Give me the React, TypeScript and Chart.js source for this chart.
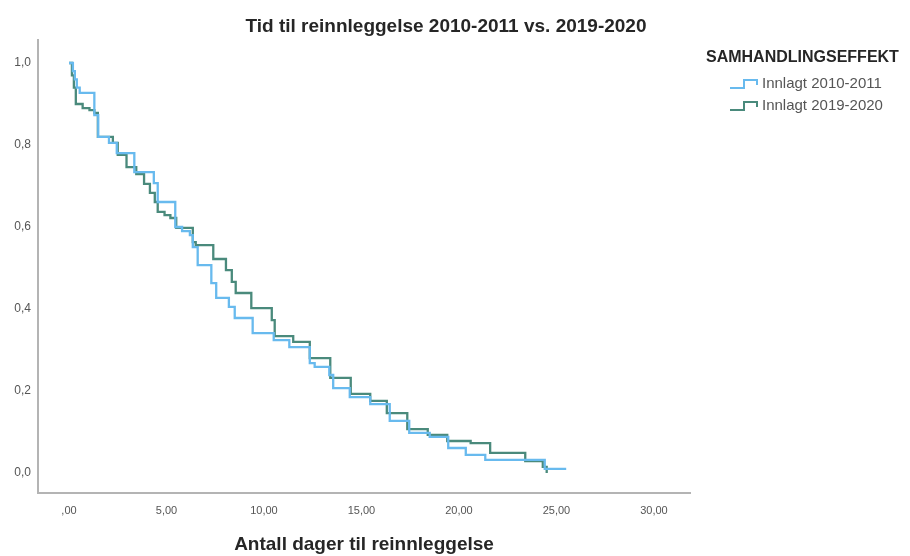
import React, { useEffect, useRef } from "react";
import { Chart, registerables } from "chart.js";

Chart.register(...registerables);

const TITLE = "Tid til reinnleggelse 2010-2011 vs. 2019-2020";
const X_TITLE = "Antall dager til reinnleggelse";
const LEGEND_TITLE = "SAMHANDLINGSEFFEKT";
const SERIES_NAMES = ["Innlagt 2010-2011", "Innlagt 2019-2020"];
const SERIES_COLORS = ["rgb(104,186,238)", "rgb(74,138,124)"];

const X_TICK_VALUES = [0, 5, 10, 15, 20, 25, 30];
const X_TICK_LABELS = [",00", "5,00", "10,00", "15,00", "20,00", "25,00", "30,00"];
const Y_TICK_VALUES = [0, 0.2, 0.4, 0.6, 0.8, 1.0];
const Y_TICK_LABELS = ["0,0", "0,2", "0,4", "0,6", "0,8", "1,0"];

// Innlagt 2010-2011
const BLUE_T = [0, 0.2, 0.3, 0.4, 0.55, 1.3, 1.5, 2.05, 2.45, 3.35, 4.35, 4.55, 5.45, 5.8, 6.2, 6.35, 6.6, 7.3, 7.55, 8.2, 8.5, 9.42, 10.5, 11.3, 12.35, 12.6, 13.35, 13.55, 14.4, 15.45, 16.45, 17.45, 18.5, 19.45, 20.35, 21.35, 24.4, 25.5];
const BLUE_S = [1.0, 0.98, 0.96, 0.94, 0.927, 0.873, 0.82, 0.805, 0.78, 0.734, 0.707, 0.661, 0.6, 0.59, 0.58, 0.551, 0.507, 0.463, 0.427, 0.405, 0.378, 0.341, 0.324, 0.307, 0.268, 0.259, 0.239, 0.207, 0.185, 0.168, 0.127, 0.098, 0.088, 0.061, 0.044, 0.032, 0.01, 0.01];

// Innlagt 2019-2020
const GREEN_T = [0, 0.15, 0.25, 0.35, 0.7, 1.05, 1.3, 1.48, 2.25, 2.5, 2.95, 3.45, 3.85, 4.15, 4.4, 4.55, 4.9, 5.2, 5.5, 6.35, 6.5, 7.4, 8.05, 8.35, 8.55, 9.35, 10.4, 10.55, 11.5, 12.35, 13.4, 14.45, 15.45, 16.3, 17.35, 18.4, 19.4, 20.6, 21.6, 23.4, 24.3, 24.5];
const GREEN_S = [1.0, 0.97, 0.94, 0.9, 0.89, 0.885, 0.878, 0.82, 0.805, 0.776, 0.746, 0.729, 0.705, 0.683, 0.661, 0.637, 0.629, 0.622, 0.598, 0.563, 0.556, 0.522, 0.495, 0.466, 0.439, 0.402, 0.373, 0.334, 0.32, 0.28, 0.232, 0.193, 0.176, 0.146, 0.107, 0.093, 0.078, 0.073, 0.049, 0.029, 0.015, 0.0];

const FONT = "'Liberation Sans', Arial, sans-serif";

const toPoints = (t: number[], s: number[]) => t.map((x, i) => ({ x, y: s[i] }));

const overlayPlugin = {
  id: "overlay",
  afterDraw(chart: any) {
    const ctx = chart.ctx as CanvasRenderingContext2D;
    ctx.save();
    // Title
    ctx.fillStyle = "#262626";
    ctx.font = `bold 19px ${FONT}`;
    ctx.textAlign = "center";
    ctx.textBaseline = "middle";
    ctx.fillText(TITLE, 446, 27);

    // Legend
    ctx.textAlign = "left";
    ctx.font = `bold 16px ${FONT}`;
    ctx.fillStyle = "#262626";
    ctx.fillText(LEGEND_TITLE, 706, 58);
    ctx.font = `15px ${FONT}`;
    SERIES_NAMES.forEach((name, i) => {
      const cy = 84 + i * 22;
      ctx.strokeStyle = SERIES_COLORS[i];
      ctx.lineWidth = 2;
      ctx.beginPath();
      ctx.moveTo(730, cy + 4);
      ctx.lineTo(744, cy + 4);
      ctx.lineTo(744, cy - 4);
      ctx.lineTo(757, cy - 4);
      ctx.lineTo(757, cy + 1);
      ctx.stroke();
      ctx.fillStyle = "#555";
      ctx.fillText(name, 762, cy);
    });
    ctx.restore();
  },
};

export default function App() {
  const ref = useRef<HTMLCanvasElement>(null);

  useEffect(() => {
    if (!ref.current) return;
    const chart = new Chart(ref.current, {
      type: "line",
      data: {
        datasets: [
          {
            label: SERIES_NAMES[0],
            data: toPoints(BLUE_T, BLUE_S),
            borderColor: SERIES_COLORS[0],
            borderWidth: 2.3,
            pointRadius: 0,
            stepped: "before",
            fill: false,
          },
          {
            label: SERIES_NAMES[1],
            data: toPoints(GREEN_T, GREEN_S),
            borderColor: SERIES_COLORS[1],
            borderWidth: 2.3,
            pointRadius: 0,
            stepped: "before",
            fill: false,
          },
        ],
      },
      options: {
        responsive: false,
        animation: false,
        layout: { padding: { left: 8, right: 220, top: 40, bottom: 0 } },
        plugins: {
          legend: { display: false },
          title: { display: false },
          tooltip: { enabled: false },
        },
        scales: {
          x: {
            type: "linear",
            min: -1.59,
            max: 31.85,
            afterFit: (s: any) => {
              s.height = 63;
            },
            afterBuildTicks: (s: any) => {
              s.ticks = X_TICK_VALUES.map((v) => ({ value: v }));
            },
            grid: { display: false, drawTicks: false },
            border: { display: true, color: "#b4b4b4", width: 2 },
            ticks: {
              padding: 11,
              color: "#555",
              font: { family: FONT, size: 11 },
              maxRotation: 0,
              autoSkip: false,
              callback: (v: any) => {
                const i = X_TICK_VALUES.indexOf(Number(v));
                return i >= 0 ? X_TICK_LABELS[i] : "";
              },
            },
            title: {
              display: true,
              text: X_TITLE,
              color: "#262626",
              font: { family: FONT, size: 19, weight: "bold" },
              padding: { top: 0, bottom: 0 },
            },
          },
          y: {
            type: "linear",
            min: -0.0488,
            max: 1.0561,
            afterFit: (s: any) => {
              s.width = 30;
            },
            afterBuildTicks: (s: any) => {
              s.ticks = Y_TICK_VALUES.map((v) => ({ value: v }));
            },
            grid: { display: false, drawTicks: false },
            border: { display: true, color: "#b4b4b4", width: 2 },
            ticks: {
              padding: 7,
              color: "#555",
              font: { family: FONT, size: 12 },
              autoSkip: false,
              callback: (v: any) => {
                const i = Y_TICK_VALUES.findIndex((t) => Math.abs(t - Number(v)) < 1e-6);
                return i >= 0 ? Y_TICK_LABELS[i] : "";
              },
            },
          },
        },
      },
      plugins: [overlayPlugin],
    });
    return () => chart.destroy();
  }, []);

  return (
    <div style={{ position: "absolute", left: 0, top: 0, width: 910, height: 556, background: "#fff" }}>
      <canvas ref={ref} width={910} height={556} style={{ display: "block" }} />
    </div>
  );
}
